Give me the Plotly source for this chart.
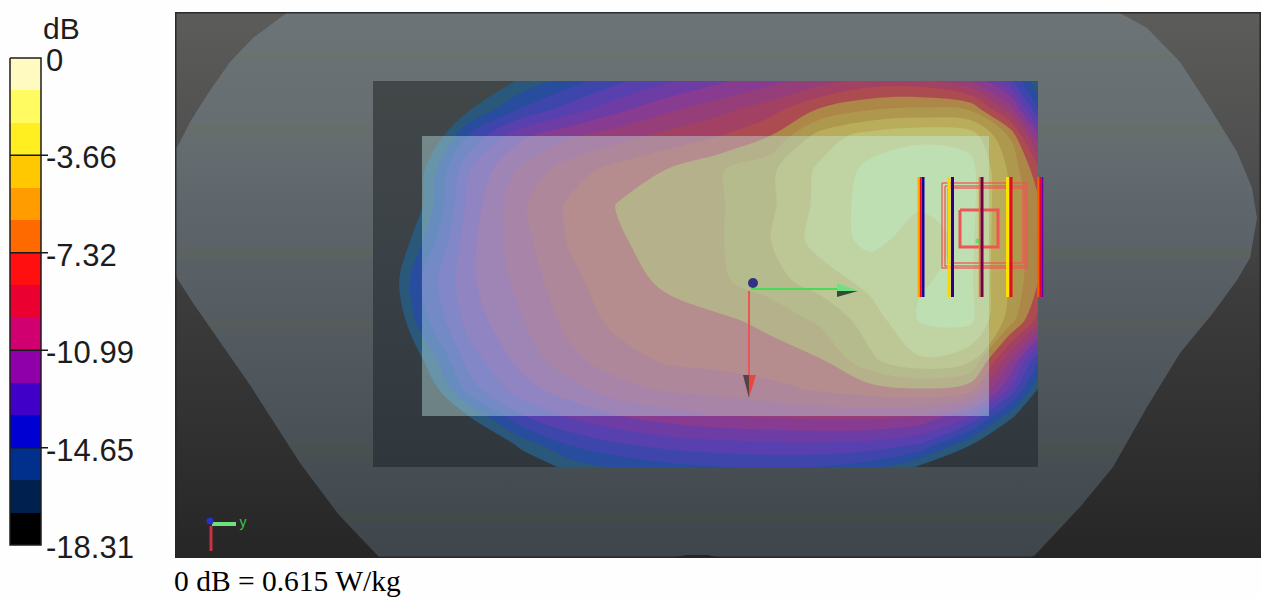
import plotly.graph_objects as go

W, H = 1261, 598

# ---- colour bar ----
db_ticks = [0, -3.66, -7.32, -10.99, -14.65]
db_labels = ["-18.31", "-14.65", "-10.99", "-7.32", "-3.66", "0"]
db_label_values = [-18.31, -14.65, -10.99, -7.32, -3.66, 0]
band_edges = [-18.31, -17.09, -15.87, -14.65, -13.43, -12.21, -10.99, -9.77, -8.55, -7.32, -6.10, -4.88, -3.66, -2.44, -1.22, 0]
bar_colors = ["#000000", "#002050", "#00308c", "#0000d2", "#4000c8", "#9000aa", "#d00070", "#eb0032",
              "#ff0f0f", "#ff6a00", "#ff9c00", "#ffc800", "#ffee20", "#fffb60", "#fffbc0"]
map_colors = ["rgba(0,0,0,0)", "rgb(42,88,122)", "rgb(40,76,158)", "rgb(62,70,172)", "rgb(88,65,175)",
              "rgb(110,60,165)", "rgb(135,60,146)", "rgb(150,62,122)", "rgb(162,65,100)", "rgb(172,75,80)",
              "rgb(172,135,72)", "rgb(174,152,78)", "rgb(185,172,90)", "rgb(190,192,112)", "rgb(185,212,138)"]

# ---- measured scan (dB) ----
scan_x = [374, 420, 470, 520, 570, 620, 670, 720, 770, 820, 870, 920, 970, 1010, 1038]
scan_y = [81, 110, 136, 170, 205, 240, 280, 320, 360, 390, 416, 445, 467]
scan_db = [
    [-24.0, -22.0, -19.0, -16.9, -15.2, -13.6, -12.3, -11.2, -10.2, -9.1, -8.0, -8.0, -9.6, -13.0, -17.0],
    [-24.0, -21.0, -17.1, -14.5, -12.8, -11.2, -9.9, -8.9, -7.8, -5.9, -4.9, -4.6, -4.9, -9.0, -14.5],
    [-23.0, -19.5, -14.4, -11.3, -9.9, -9.0, -8.1, -7.3, -6.1, -3.1, -1.9, -1.4, -1.7, -5.0, -10.5],
    [-22.0, -17.6, -12.2, -9.5, -7.9, -6.8, -6.0, -5.0, -3.9, -2.2, -0.9, -0.7, -0.8, -3.9, -6.9],
    [-21.0, -17.4, -11.7, -8.8, -7.1, -6.0, -5.5, -5.0, -3.9, -2.1, -0.7, -1.1, -0.8, -3.8, -5.8],
    [-20.5, -16.2, -11.3, -9.0, -7.2, -6.2, -5.6, -5.0, -3.7, -1.9, -0.9, -1.7, -0.9, -3.8, -5.8],
    [-20.0, -14.7, -11.2, -9.4, -7.6, -6.6, -5.8, -5.1, -4.1, -3.1, -2.0, -1.3, -1.0, -3.8, -6.0],
    [-21.0, -15.3, -11.6, -9.9, -8.1, -6.9, -6.6, -6.3, -5.8, -4.6, -3.1, -1.1, -0.9, -4.2, -7.8],
    [-23.0, -17.4, -12.8, -10.6, -8.9, -7.8, -7.1, -6.9, -6.6, -6.2, -3.9, -2.6, -3.3, -9.5, -14.5],
    [-25.0, -19.0, -14.0, -11.6, -10.3, -9.0, -8.4, -8.1, -7.7, -7.2, -6.7, -6.3, -7.0, -12.5, -17.2],
    [-26.0, -21.0, -17.0, -13.6, -12.0, -11.0, -10.3, -9.8, -9.6, -9.4, -9.4, -9.8, -12.2, -16.5, -20.0],
    [-28.0, -24.0, -20.0, -16.8, -14.6, -13.6, -13.0, -12.7, -12.5, -12.5, -12.7, -13.6, -17.0, -21.0, -24.0],
    [-30.0, -27.0, -23.0, -18.5, -16.6, -15.6, -15.0, -14.7, -14.6, -14.7, -15.4, -17.3, -20.5, -24.0, -27.0],
]

# ---- scene outlines ----
panel_x = [175, 1261, 1261, 175, 175]
panel_y = [12, 12, 558, 558, 12]
phantom_x = [288, 1118, 1147, 1180, 1210, 1237, 1252, 1257, 1250, 1237, 1213, 1180, 1147, 1113, 1080, 1035, 1030,
             722, 708, 686, 672, 380, 339, 300, 250, 193, 177, 175, 175, 180, 190, 207, 230, 253, 288]
phantom_y = [12, 12, 28, 62, 108, 152, 188, 218, 258, 280, 313, 353, 407, 467, 507, 555, 558,
             558, 555, 555, 558, 558, 515, 463, 385, 303, 278, 270, 150, 142, 122, 95, 62, 38, 12]
phantom_shades_y = [12, 150, 296, 449, 558]
phantom_shades = [(108, 116, 120), (100, 108, 112), (86, 93, 99), (72, 80, 86), (62, 70, 76)]
tint_rows = [55, 130, 252, 325, 450, 518]
scan_area_x = [373, 1038, 1038, 373, 373]
scan_area_y = [81, 81, 467, 467, 81]
zoom_area_x = [422, 989, 989, 422, 422]
zoom_area_y = [136, 136, 416, 416, 136]

origin_x, origin_y = [753], [283]
green_axis_x, green_axis_y = [751, 837], [289, 289]
green_head_top_x, green_head_top_y = [837, 858, 837, 837], [283, 291, 291, 283]
green_head_low_x, green_head_low_y = [837, 858, 837, 837], [297, 291, 291, 297]
red_axis_x, red_axis_y = [749, 749], [291, 376]
red_head_right_x, red_head_right_y = [749, 756, 749, 749], [375, 375, 398, 375]
red_head_left_x, red_head_left_y = [749, 743, 749, 749], [375, 375, 398, 375]

probe_top, probe_bottom = 177, 297
probe_strips = [
    (918.5, "rgb(255,170,0)", 2), (920.5, "rgb(235,10,30)", 1.5), (923, "rgb(25,0,150)", 3),
    (949, "rgb(255,215,0)", 3), (952.5, "rgb(45,0,130)", 3),
    (979.5, "rgb(255,120,0)", 1.5), (982, "rgb(115,0,70)", 3),
    (1007.5, "rgb(255,225,0)", 3), (1011, "rgb(225,15,25)", 3),
    (1038.5, "rgb(255,90,0)", 2.5), (1040.5, "rgb(225,0,50)", 2), (1042.5, "rgb(100,0,170)", 1.5),
]
coil_x = [[942, 1027, 1027, 942, 942], [948, 1023, 1023, 948, 948], [945, 1025, 1025, 945, 945]]
coil_y = [[183, 183, 268, 268, 183], [188, 188, 263, 263, 188], [186, 186, 266, 266, 186]]
core_x, core_y = [960, 998, 998, 960, 960], [210, 210, 247, 247, 210]
feed_x, feed_y = [978], [241]

triad_y_x, triad_y_y = [212, 236], [524, 524]
triad_x_x, triad_x_y = [211, 211], [526, 551]
triad_z_x, triad_z_y = [210], [521]


def stepped(colors):
    n = len(colors)
    out = []
    for i, c in enumerate(colors):
        out += [[i / n, c], [(i + 1) / n, c]]
    return out


def shade_at(y):
    for k in range(len(phantom_shades_y) - 1):
        a, b = phantom_shades_y[k], phantom_shades_y[k + 1]
        if a <= y <= b:
            t = (y - a) / (b - a)
            return [phantom_shades[k][i] * (1 - t) + phantom_shades[k + 1][i] * t for i in range(3)]
    return list(phantom_shades[-1])


def rgb(c):
    return "rgb(%d,%d,%d)" % tuple(round(v) for v in c)


def phantom_scale():
    ys = sorted(set(phantom_shades_y + [r + d for r in tint_rows for d in (-7, -5, 5, 7)]))
    out = []
    for y in ys:
        c = shade_at(y)
        if any(abs(y - r) <= 5 for r in tint_rows):
            c = [c[0] + 1, c[1] + 1, c[2] - 6]
        out.append([(y - 12) / 546, rgb(c)])
    return out


fig = go.Figure()

bg = dict(xaxis="x", yaxis="y", hoverinfo="skip", showlegend=False)
top = dict(xaxis="x3", yaxis="y3", hoverinfo="skip", showlegend=False)
cb = dict(xaxis="x2", yaxis="y2", hoverinfo="skip", showlegend=False)

# background layer
fig.add_trace(go.Scatter(x=panel_x, y=panel_y, fill="toself", mode="none", **bg,
    fillgradient=dict(type="vertical", start=12, stop=558,
        colorscale=[[0, "rgb(92,92,90)"], [0.28, "rgb(78,78,78)"], [0.52, "rgb(60,60,60)"], [1, "rgb(38,38,38)"]])))
fig.add_trace(go.Scatter(x=phantom_x, y=phantom_y, fill="toself", mode="none", **bg,
    fillgradient=dict(type="vertical", start=12, stop=558, colorscale=phantom_scale())))
fig.add_trace(go.Scatter(x=scan_area_x, y=scan_area_y, fill="toself", mode="none", **bg,
    fillgradient=dict(type="vertical", start=81, stop=467,
        colorscale=[[0, "rgb(66,71,72)"], [0.5, "rgb(58,65,70)"], [1, "rgb(48,55,60)"]])))

# scan layer
fig.add_trace(go.Contour(x=scan_x, y=scan_y, z=scan_db, xaxis="x3", yaxis="y3", hoverinfo="skip",
    showscale=False, zmin=-18.31, zmax=0, colorscale=stepped(map_colors),
    contours=dict(coloring="fill", start=-17.09, end=-1.22, size=18.31 / 15, showlines=False),
    line=dict(width=0, smoothing=1.0)))
fig.add_trace(go.Scatter(x=zoom_area_x, y=zoom_area_y, fill="toself", mode="none",
    fillcolor="rgba(195,240,238,0.40)", **top))

# coil
for cx, cy in zip(coil_x, coil_y):
    fig.add_trace(go.Scatter(x=cx, y=cy, mode="lines", line=dict(color="rgba(240,85,85,0.85)", width=1.5), **top))
fig.add_trace(go.Scatter(x=core_x, y=core_y, mode="lines", line=dict(color="rgb(240,85,85)", width=3), **top))
fig.add_trace(go.Scatter(x=feed_x, y=feed_y, mode="markers", marker=dict(color="rgb(90,225,110)", size=5), **top))

# probe bars
for px, col, w in probe_strips:
    fig.add_trace(go.Scatter(x=[px, px], y=[probe_top, probe_bottom], mode="lines",
                             line=dict(color=col, width=w), **top))

# reference axes
fig.add_trace(go.Scatter(x=green_axis_x, y=green_axis_y, mode="lines", line=dict(color="rgb(70,220,90)", width=2), **top))
fig.add_trace(go.Scatter(x=green_head_top_x, y=green_head_top_y, fill="toself", mode="none", fillcolor="rgb(110,225,130)", **top))
fig.add_trace(go.Scatter(x=green_head_low_x, y=green_head_low_y, fill="toself", mode="none", fillcolor="rgb(50,75,55)", **top))
fig.add_trace(go.Scatter(x=red_axis_x, y=red_axis_y, mode="lines", line=dict(color="rgb(235,85,85)", width=2), **top))
fig.add_trace(go.Scatter(x=red_head_right_x, y=red_head_right_y, fill="toself", mode="none", fillcolor="rgb(235,70,60)", **top))
fig.add_trace(go.Scatter(x=red_head_left_x, y=red_head_left_y, fill="toself", mode="none", fillcolor="rgb(85,65,70)", **top))
fig.add_trace(go.Scatter(x=origin_x, y=origin_y, mode="markers", marker=dict(color="rgb(50,50,130)", size=10), **top))

# orientation triad
fig.add_trace(go.Scatter(x=triad_y_x, y=triad_y_y, mode="lines", line=dict(color="rgb(110,225,120)", width=4), **top))
fig.add_trace(go.Scatter(x=triad_x_x, y=triad_x_y, mode="lines", line=dict(color="rgb(200,50,65)", width=3), **top))
fig.add_trace(go.Scatter(x=triad_z_x, y=triad_z_y, mode="markers", marker=dict(color="rgb(40,50,200)", size=7), **top))
fig.add_trace(go.Scatter(x=[243], y=[523], mode="text", text=["y"],
                         textfont=dict(family="Liberation Sans", size=14, color="rgb(60,200,70)"), **top))

# panel edges
fig.add_trace(go.Scatter(x=panel_x, y=panel_y, mode="lines", line=dict(color="rgba(38,38,38,0.9)", width=3), **top))

# colour bar
mids = [(band_edges[i] + band_edges[i + 1]) / 2 for i in range(15)]
fig.add_trace(go.Heatmap(x=[10, 41], y=band_edges, z=[[m] for m in mids], xaxis="x2", yaxis="y2", hoverinfo="skip",
    showscale=False, zmin=-18.31, zmax=0, colorscale=stepped(bar_colors)))
fig.add_trace(go.Scatter(x=[10, 41, 41, 10, 10], y=[0, 0, -18.31, -18.31, 0], mode="lines",
    line=dict(color="rgb(30,30,30)", width=1.5), **cb))
tx, ty = [], []
for t in db_ticks[1:]:
    tx += [10, 48, None]
    ty += [t, t, None]
fig.add_trace(go.Scatter(x=tx, y=ty, mode="lines", line=dict(color="rgb(25,25,25)", width=1.5), **cb))
fig.add_trace(go.Scatter(x=[46] * len(db_labels), y=[v - 0.2 for v in db_label_values], mode="text", text=db_labels,
    textposition="middle right", textfont=dict(family="Liberation Sans", size=31, color="#1c1c1c"), **cb))

PX = 1 / W
PY = 1 / H
dom_x = [175 * PX, 1]
dom_y = [(H - 558) * PY, (H - 12) * PY]
hide = dict(visible=False, fixedrange=True)
fig.update_layout(
    width=W, height=H, margin=dict(l=0, r=0, t=0, b=0), paper_bgcolor="#fefefe", plot_bgcolor="rgba(0,0,0,0)",
    showlegend=False,
    xaxis=dict(domain=dom_x, range=[175, 1261], **hide),
    yaxis=dict(domain=dom_y, range=[558, 12], **hide),
    xaxis3=dict(domain=dom_x, range=[175, 1261], overlaying="x", **hide),
    yaxis3=dict(domain=dom_y, range=[558, 12], overlaying="y", anchor="x3", **hide),
    xaxis2=dict(domain=[0, 170 * PX], range=[0, 170], anchor="y2", **hide),
    yaxis2=dict(domain=dom_y, range=[-18.31 - 13 / 26.6, 46 / 26.6], anchor="x2", **hide),
    annotations=[
        dict(text="dB", xref="paper", yref="paper", x=41 * PX, y=1 - 29 * PY, xanchor="left", yanchor="middle",
             showarrow=False, font=dict(family="Liberation Sans", size=30, color="#1c1c1c")),
        dict(text="0 dB = 0.615 W/kg", xref="paper", yref="paper", x=172 * PX, y=1 - 581 * PY, xanchor="left", yanchor="middle",
             showarrow=False, font=dict(family="Liberation Serif", size=29.5, color="#000000")),
    ],
)
fig.write_html("out.html", config=dict(displayModeBar=False),
               post_script="document.body.style.margin='0';document.body.style.overflow='hidden';")
